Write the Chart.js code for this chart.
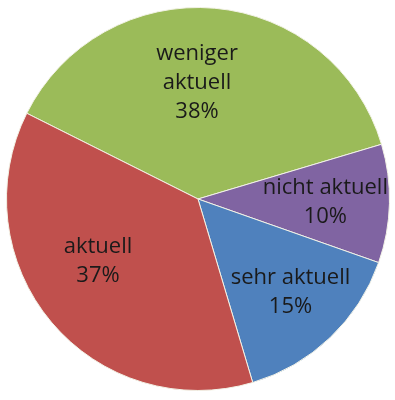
<!DOCTYPE html>
<html>
<head>
<meta charset="utf-8">
<script src="https://cdn.jsdelivr.net/npm/chart.js@4.4.0/dist/chart.umd.min.js"></script>
<style>
  html, body { margin: 0; padding: 0; background: #fff; }
  #wrap { width: 395px; height: 400px; position: relative; }
</style>
</head>
<body>
<div id="wrap"><canvas id="GraficoTorta"></canvas></div>
<script>
// data (clockwise from the green slice)
const categorias = ['weniger aktuell', 'nicht aktuell', 'sehr aktuell', 'aktuell'];
const porcentajes = [38, 10, 15, 37];
const etiquetas = [['weniger', 'aktuell'], ['nicht aktuell'], ['sehr aktuell'], ['aktuell']];
const colores = ['#9BBB59', '#8064A2', '#4F81BD', '#C0504D'];

// label placement tweaks (radius fraction, px nudge)
const labelPos = [
    { r: 0.6, dx: -11, dy: -2 },
    { r: 0.66, dx: 1, dy: 0 },
    { r: 0.67, dx: 4, dy: 0 },
    { r: 0.6, dx: -12, dy: -12 }
];

const etiquetasPlugin = {
    id: 'etiquetas',
    afterDatasetsDraw(chart) {
        const ctx = chart.ctx;
        const meta = chart.getDatasetMeta(0);
        ctx.save();
        ctx.font = '22px "Open Sans", sans-serif';
        ctx.fillStyle = '#1a1a1a';
        ctx.textAlign = 'center';
        ctx.textBaseline = 'middle';
        meta.data.forEach((arc, i) => {
            const p = arc.getProps(['x', 'y', 'startAngle', 'endAngle', 'outerRadius'], true);
            const mid = (p.startAngle + p.endAngle) / 2;
            const r = p.outerRadius * labelPos[i].r;
            const cx = p.x + Math.cos(mid) * r + labelPos[i].dx;
            const cy = p.y + Math.sin(mid) * r + labelPos[i].dy;
            const lines = etiquetas[i].concat([porcentajes[i] + '%']);
            const lh = 29;
            const top = cy - (lines.length - 1) * lh / 2;
            lines.forEach((t, k) => ctx.fillText(t, cx, top + k * lh));
        });
        ctx.restore();
    }
};

const ctx = document.getElementById('GraficoTorta').getContext('2d');
new Chart(ctx, {
    type: 'pie',
    data: {
        labels: categorias,
        datasets: [{
            data: porcentajes,
            backgroundColor: colores,
            borderColor: '#f2f2e6',
            borderWidth: 1
        }]
    },
    options: {
        responsive: true,
        maintainAspectRatio: false,
        animation: false,
        rotation: -63.4,
        layout: { padding: { left: 6, right: 5, top: 6, bottom: 8 } },
        plugins: {
            legend: { display: false },
            tooltip: { enabled: false }
        }
    },
    plugins: [etiquetasPlugin]
});
</script>
</body>
</html>
